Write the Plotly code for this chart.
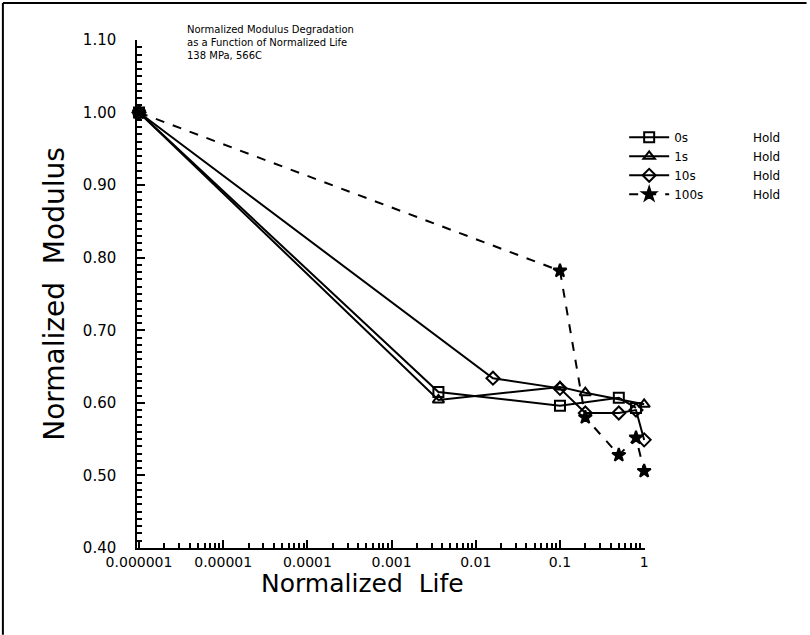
import plotly.graph_objects as go

# Normalized modulus vs normalized life, 138 MPa / 566C, four hold times
life_0s = [1e-6, 0.0036, 0.1, 0.5, 0.8]
mod_0s = [1.00, 0.615, 0.596, 0.607, 0.593]

life_1s = [1e-6, 0.0036, 0.1, 0.2, 1.0]
mod_1s = [1.00, 0.604, 0.622, 0.614, 0.598]

life_10s = [1e-6, 0.016, 0.1, 0.2, 0.5, 0.8, 1.0]
mod_10s = [1.00, 0.634, 0.620, 0.586, 0.586, 0.590, 0.549]

life_100s = [1e-6, 0.1, 0.2, 0.5, 0.8, 1.0]
mod_100s = [1.00, 0.782, 0.580, 0.528, 0.552, 0.506]

series_names = ["0s", "1s", "10s", "100s"]
hold_label = "Hold"

x_tickvals = [1e-6, 1e-5, 1e-4, 1e-3, 1e-2, 1e-1, 1]
x_ticktext = ["0.000001", "0.00001", "0.0001", "0.001", "0.01", "0.1", "1"]
y_tickvals = [0.40, 0.50, 0.60, 0.70, 0.80, 0.90, 1.00, 1.10]

FONT = "DejaVu Sans"
NBSP = "\u00a0"

styles = [
    dict(symbol="square-open", dash="solid"),
    dict(symbol="triangle-up-open", dash="solid"),
    dict(symbol="diamond-open", dash="solid"),
    dict(symbol="star", dash="dash"),
]
data = [(life_0s, mod_0s), (life_1s, mod_1s), (life_10s, mod_10s), (life_100s, mod_100s)]


def legend_text(name):
    # DejaVu digits are exactly two no-break spaces wide, so padding by
    # name length keeps the "Hold" column aligned.
    pad = 13 + 2 * (4 - len(name))
    return name + NBSP * pad + hold_label


fig = go.Figure()
for name, (xs, ys), st in zip(series_names, data, styles):
    fig.add_trace(go.Scatter(
        x=xs, y=ys, name=legend_text(name), mode="lines+markers",
        line=dict(color="black", width=2, dash=st["dash"]),
        marker=dict(symbol=st["symbol"], size=10, color="black",
                    line=dict(color="black", width=2)),
        cliponaxis=False,
    ))

fig.update_layout(
    width=810, height=635,
    margin=dict(l=137, r=165, t=40, b=87),
    paper_bgcolor="white", plot_bgcolor="white",
    font=dict(family=FONT, color="black"),
    showlegend=True,
    legend=dict(
        x=0.959, y=0.837, xanchor="left", yanchor="top",
        bgcolor="rgba(0,0,0,0)", font=dict(size=12, family=FONT),
        tracegroupgap=0, itemwidth=40,
    ),
)

fig.update_xaxes(
    type="log", range=[-6.024, 0.01],
    tickvals=x_tickvals, ticktext=x_ticktext,
    tickfont=dict(size=14, family=FONT),
    ticks="inside", ticklen=8, tickwidth=1.5, tickcolor="black",
    minor=dict(ticks="inside", ticklen=5, tickcolor="black", dtick="D1"),
    showline=True, linecolor="black", linewidth=1.5,
    showgrid=False, zeroline=False,
)
fig.update_yaxes(
    range=[0.40, 1.10],
    tickvals=y_tickvals, tickformat=".2f",
    tickfont=dict(size=15, family=FONT),
    ticks="inside", ticklen=8, tickwidth=1.5, tickcolor="black",
    minor=dict(ticks="inside", ticklen=5, tickcolor="black", dtick=0.01),
    ticklabelstandoff=16,
    showline=True, linecolor="black", linewidth=1.5,
    showgrid=False, zeroline=False,
    title=dict(text="Normalized  Modulus", font=dict(size=28, family=FONT), standoff=10),
)

# X-axis title, set slightly left of the axis centre
fig.add_annotation(
    xref="paper", yref="paper", x=0.443, y=-0.037, xanchor="center", yanchor="top",
    text="Normalized  Life", showarrow=False, font=dict(size=25, family=FONT),
)

# Figure caption inside the plotting area
fig.add_annotation(
    xref="paper", yref="paper", x=0.094, y=1.035, xanchor="left", yanchor="top",
    text="Normalized Modulus Degradation<br>as a Function of Normalized Life<br>138 MPa, 566C",
    showarrow=False, align="left", font=dict(size=10, family=FONT),
)

# Frame lines around the sheet
fig.add_shape(type="line", xref="paper", yref="paper",
              x0=-0.264, x1=1.318, y0=1.073, y1=1.073, line=dict(color="black", width=2))
fig.add_shape(type="line", xref="paper", yref="paper",
              x0=-0.264, x1=-0.264, y0=1.073, y1=-0.171, line=dict(color="black", width=2))

fig.write_html("out.html")
